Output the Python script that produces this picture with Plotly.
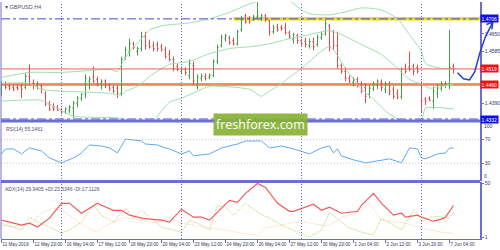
import plotly.graph_objects as go

# ---------------- data ----------------
bars = list(range(114))
opens = [1.4428,1.4465,1.4454,1.4450,1.4450,1.4454,1.4450,1.4491,1.4465,1.4454,
         1.4454,1.4428,1.4388,1.4376,1.4373,1.4365,1.4358,1.4365,1.4373,1.4391,
         1.4410,1.4425,1.4473,1.4488,1.4480,1.4462,1.4473,1.4458,1.4450,1.4447,
         1.4428,1.4562,1.4584,1.4613,1.4584,1.4595,1.4639,1.4613,1.4606,1.4610,
         1.4602,1.4591,1.4573,1.4554,1.4528,1.4510,1.4517,1.4495,1.4532,1.4458,
         1.4484,1.4491,1.4488,1.4495,1.4547,1.4606,1.4632,1.4636,1.4625,1.4613,
         1.4665,1.4717,1.4706,1.4702,1.4713,1.4710,1.4717,1.4699,1.4658,1.4676,
         1.4673,1.4673,1.4654,1.4628,1.4643,1.4625,1.4621,1.4606,1.4621,1.4610,
         1.4636,1.4650,1.4680,1.4658,1.4606,1.4532,1.4510,1.4484,1.4469,1.4480,
         1.4462,1.4450,1.4425,1.4447,1.4458,1.4469,1.4443,1.4462,1.4443,1.4428,
         1.4417,1.4517,1.4525,1.4528,1.4525,1.4465,1.4406,1.4410,1.4399,1.4428,
         1.4447,1.4458,1.4462,1.4528]
highs = [1.4473,1.4473,1.4465,1.4458,1.4462,1.4465,1.4502,1.4536,1.4480,1.4473,
         1.4462,1.4436,1.4399,1.4391,1.4384,1.4373,1.4376,1.4384,1.4399,1.4417,
         1.4428,1.4499,1.4491,1.4528,1.4491,1.4480,1.4480,1.4465,1.4458,1.4458,
         1.4565,1.4602,1.4632,1.4621,1.4602,1.4658,1.4658,1.4628,1.4621,1.4621,
         1.4613,1.4602,1.4591,1.4565,1.4539,1.4528,1.4525,1.4554,1.4547,1.4499,
         1.4502,1.4502,1.4502,1.4554,1.4610,1.4647,1.4650,1.4643,1.4636,1.4665,
         1.4717,1.4725,1.4717,1.4721,1.4769,1.4725,1.4725,1.4702,1.4684,1.4688,
         1.4684,1.4691,1.4662,1.4654,1.4650,1.4632,1.4636,1.4632,1.4636,1.4647,
         1.4658,1.4702,1.4688,1.4665,1.4658,1.4539,1.4525,1.4495,1.4488,1.4488,
         1.4473,1.4465,1.4458,1.4473,1.4480,1.4480,1.4473,1.4473,1.4454,1.4443,
         1.4525,1.4539,1.4584,1.4539,1.4536,1.4473,1.4413,1.4417,1.4454,1.4462,
         1.4473,1.4473,1.4665,1.4539]
lows = [1.4417,1.4443,1.4439,1.4436,1.4439,1.4410,1.4443,1.4458,1.4443,1.4443,
        1.4428,1.4380,1.4362,1.4362,1.4362,1.4351,1.4351,1.4354,1.4336,1.4376,
        1.4399,1.4410,1.4443,1.4465,1.4454,1.4443,1.4447,1.4436,1.4428,1.4410,
        1.4417,1.4554,1.4565,1.4591,1.4569,1.4584,1.4591,1.4595,1.4584,1.4584,
        1.4584,1.4558,1.4547,1.4510,1.4510,1.4499,1.4495,1.4480,1.4458,1.4443,
        1.4473,1.4476,1.4480,1.4488,1.4536,1.4599,1.4621,1.4610,1.4606,1.4606,
        1.4658,1.4688,1.4688,1.4699,1.4706,1.4699,1.4695,1.4643,1.4650,1.4658,
        1.4662,1.4647,1.4632,1.4613,1.4613,1.4606,1.4599,1.4595,1.4588,1.4602,
        1.4628,1.4643,1.4584,1.4591,1.4521,1.4502,1.4473,1.4465,1.4454,1.4450,
        1.4428,1.4391,1.4410,1.4436,1.4443,1.4436,1.4428,1.4421,1.4406,1.4406,
        1.4406,1.4502,1.4510,1.4495,1.4502,1.4354,1.4384,1.4399,1.4369,1.4410,
        1.4436,1.4447,1.4443,1.4502]
closes = [1.4462,1.4450,1.4447,1.4443,1.4447,1.4443,1.4491,1.4465,1.4458,1.4465,
          1.4443,1.4388,1.4369,1.4369,1.4365,1.4358,1.4369,1.4376,1.4391,1.4410,
          1.4425,1.4484,1.4480,1.4473,1.4465,1.4473,1.4458,1.4447,1.4436,1.4428,
          1.4554,1.4591,1.4613,1.4599,1.4595,1.4639,1.4606,1.4602,1.4595,1.4595,
          1.4591,1.4565,1.4554,1.4521,1.4517,1.4517,1.4506,1.4539,1.4473,1.4488,
          1.4491,1.4484,1.4495,1.4547,1.4599,1.4636,1.4643,1.4617,1.4613,1.4658,
          1.4706,1.4695,1.4695,1.4713,1.4717,1.4717,1.4702,1.4658,1.4673,1.4665,
          1.4669,1.4654,1.4639,1.4647,1.4625,1.4613,1.4610,1.4621,1.4602,1.4636,
          1.4647,1.4688,1.4602,1.4606,1.4532,1.4510,1.4484,1.4473,1.4480,1.4462,
          1.4443,1.4417,1.4447,1.4462,1.4473,1.4450,1.4462,1.4436,1.4417,1.4413,
          1.4517,1.4510,1.4517,1.4510,1.4510,1.4399,1.4399,1.4402,1.4436,1.4447,
          1.4462,1.4465,1.4525,1.4519]

# Bollinger bands (bar, price)
bb_up_bars = [0,7,15,22,27,29,30,32,35,37,40,42,47,52,56,59,62,65,68,72,75,77,82,86,90,95,99,102,105,106,110,113]
bb_up = [1.4488,1.4506,1.4506,1.4513,1.4517,1.4510,1.4536,1.4584,1.4632,1.4665,1.4680,1.4684,1.4691,1.4706,1.4725,1.4743,1.4762,1.4776,1.4784,1.4773,1.4739,1.4725,1.4721,1.4732,1.4747,1.4739,1.4706,1.4647,1.4584,1.4539,1.4521,1.4521]
bb_mid_bars = [0,7,10,15,22,27,30,31,34,37,42,47,52,57,62,67,72,77,82,85,90,95,99,102,105,107,110,113]
bb_mid = [1.4465,1.4465,1.4443,1.4436,1.4432,1.4428,1.4421,1.4436,1.4454,1.4491,1.4536,1.4547,1.4576,1.4595,1.4602,1.4613,1.4632,1.4647,1.4662,1.4647,1.4610,1.4573,1.4521,1.4480,1.4462,1.4447,1.4454,1.4462]
bb_low_bars = [0,10,12,18,29,31,38,40,42,45,49,52,62,65,67,69,75,82,86,90,93,96,99,103,105,106,113]
bb_low = [1.4399,1.4402,1.4388,1.4343,1.4336,1.4328,1.4328,1.4362,1.4395,1.4410,1.4436,1.4454,1.4443,1.4417,1.4436,1.4454,1.4521,1.4602,1.4521,1.4443,1.4406,1.4362,1.4332,1.4317,1.4328,1.4373,1.4369]

# RSI(14)
rsi_bars = [0,1,3,5,7,10,12,15,18,20,22,25,27,29,31,34,35,36,39,41,42,45,47,48,52,55,59,61,65,67,70,73,77,80,82,83,84,85,87,88,91,94,97,100,102,104,105,106,109,111,112,113]
rsi = [45.5,53.8,53.8,45.5,55.5,50.5,38.8,30.5,38.8,47.2,60.5,58.8,55.5,47.2,70.5,67.2,67.2,62.2,60.5,55.5,53.8,45.5,50.5,42.2,45.5,55.5,62.2,67.2,67.2,55.5,58.8,53.8,45.5,55.5,58.8,47.2,53.8,42.2,37.2,35.5,30.5,33.8,37.2,30.5,55.5,53.8,38.8,37.2,45.5,47.2,55.5,55.1]

# ADX(14), +DI, -DI
adx_bars = [0,2,5,7,9,12,15,17,20,24,25,28,30,32,35,37,40,42,45,48,50,52,57,59,61,64,66,69,72,73,75,78,80,82,85,87,89,90,93,95,98,100,101,104,105,108,110,111,113]
adx = [16.5,14.6,11.9,13.7,10.1,18.3,31.9,31.9,22.8,31.9,30.1,25.5,25.5,21.0,18.3,17.4,16.5,14.6,26.5,19.2,19.2,16.5,34.6,32.8,41.0,50.1,46.5,31.9,24.6,24.6,27.4,31.0,25.5,28.3,22.8,23.7,24.6,30.1,41.0,31.9,21.0,22.8,19.2,21.0,19.2,15.5,17.4,19.2,29.9]
pdi_bars = [0,3,5,7,9,12,15,17,20,23,25,28,31,33,35,38,40,45,47,50,52,54,56,58,61,64,67,70,75,77,80,82,85,87,90,93,95,97,100,103,104,105,107,110,111,113]
pdi = [11.9,10.1,7.4,19.2,14.6,10.1,4.6,7.4,14.6,30.1,21.0,14.6,27.4,19.2,25.5,16.5,10.1,5.5,16.5,11.9,7.4,30.1,28.3,21.0,31.9,23.7,18.3,11.9,4.6,1.0,7.4,23.7,14.6,9.2,5.5,2.8,18.3,13.7,7.4,25.5,22.8,14.6,19.2,20.1,14.6,23.5]
mdi_bars = [0,3,5,8,10,13,15,18,21,24,25,28,31,35,38,40,42,45,48,52,56,60,64,66,70,73,76,80,82,85,87,90,92,95,98,101,105,107,110,113]
mdi = [13.7,10.1,11.9,14.6,22.8,27.4,25.5,18.3,10.1,5.5,9.2,14.6,19.2,16.5,13.7,16.5,18.3,13.7,11.9,9.2,7.4,4.6,2.8,9.2,11.9,14.6,14.6,11.9,11.9,19.2,21.0,25.5,31.9,16.5,14.6,13.7,9.2,7.4,5.5,4.6]

tick_bars = [0,8,16,24,32,40,48,56,64,72,80,88,96,104,112]
tick_labels = ["11 May 2016","12 May 20:00","16 May 04:00","17 May 12:00","18 May 20:00",
               "20 May 04:00","23 May 12:00","24 May 20:00","26 May 04:00","27 May 12:00",
               "30 May 20:00","1 Jun 04:00","2 Jun 12:00","3 Jun 20:00","7 Jun 04:00"]
week_separators = [15,45,75,105]

price_ticks = [1.4650, 1.4585, 1.4390]
level_blue = [1.4706, 1.4332]
level_red = [1.4519, 1.4460]
yellow_level = 1.4706
yellow_start = 58
rsi_levels = [70, 30]
adx_ticks = [50, 1]

# arrow drawn by hand (bar, price)
arrow_path = [(114.0, 1.4505), (115.5, 1.4482), (117.0, 1.4478), (118.3, 1.4508),
              (119.6, 1.4580), (121.0, 1.4640), (122.8, 1.4693)]

# ---------------- layout constants ----------------
W, H = 500, 250
ML, MR, MT, MB = 1, 20, 0, 11
XR = [-0.125, 119.625]
PR = [1.43264, 1.4769]
FRAME = "#6e6ed2"
TXT = "#34346a"
FONT = "Liberation Sans"

main_dom = [0.5, 1.0]
rsi_dom = [0.2448, 0.4958]
adx_dom = [0.0, 0.2385]

fig = go.Figure()
fig.add_trace(go.Ohlc(x=bars, open=opens, high=highs, low=lows, close=closes,
                      increasing=dict(line=dict(color="#45a045", width=1)),
                      decreasing=dict(line=dict(color="#ea4a4a", width=1)),
                      tickwidth=0.3, xaxis="x", yaxis="y", showlegend=False, hoverinfo="skip"))
bbc = "#9edcb2"
for bx, by in [(bb_up_bars, bb_up), (bb_mid_bars, bb_mid), (bb_low_bars, bb_low)]:
    fig.add_trace(go.Scatter(x=bx, y=by, mode="lines", line=dict(color=bbc, width=1, shape="spline", smoothing=0.6),
                             xaxis="x", yaxis="y", showlegend=False, hoverinfo="skip"))

fig.add_trace(go.Scatter(x=rsi_bars, y=rsi, mode="lines", line=dict(color="#5eaaf2", width=1),
                         xaxis="x2", yaxis="y2", showlegend=False, hoverinfo="skip"))

fig.add_trace(go.Scatter(x=mdi_bars, y=mdi, mode="lines", line=dict(color="#f7d2b0", width=1, dash="1px,1px"),
                         xaxis="x3", yaxis="y3", showlegend=False, hoverinfo="skip"))
fig.add_trace(go.Scatter(x=pdi_bars, y=pdi, mode="lines", line=dict(color="#b5d46a", width=1, dash="1px,1px"),
                         xaxis="x3", yaxis="y3", showlegend=False, hoverinfo="skip"))
fig.add_trace(go.Scatter(x=adx_bars, y=adx, mode="lines", line=dict(color="#f55a5a", width=1.2),
                         xaxis="x3", yaxis="y3", showlegend=False, hoverinfo="skip"))

shapes = []
# horizontal levels
shapes.append(dict(type="line", xref="x", yref="y", x0=yellow_start, x1=XR[1], y0=yellow_level, y1=yellow_level,
                   line=dict(color="#e4e400", width=3.5), layer="below"))
for lv in level_blue:
    shapes.append(dict(type="line", xref="paper", yref="y", x0=0, x1=1, y0=lv, y1=lv,
                       line=dict(color="#4848d8", width=1, dash="dashdot")))
shapes.append(dict(type="line", xref="paper", yref="y", x0=0, x1=1, y0=level_red[0], y1=level_red[0],
                   line=dict(color="#ff5a5a", width=1)))
shapes.append(dict(type="line", xref="paper", yref="y", x0=0, x1=1, y0=level_red[1], y1=level_red[1],
                   line=dict(color="#f5a070", width=2.5), layer="below"))
shapes.append(dict(type="line", xref="paper", yref="y", x0=0, x1=1, y0=level_red[1] + 0.0003, y1=level_red[1] + 0.0003,
                   line=dict(color="#ff5a5a", width=1), layer="below"))
for lv in rsi_levels:
    shapes.append(dict(type="line", xref="paper", yref="y2", x0=0, x1=1, y0=lv, y1=lv,
                       line=dict(color="#c4c4c4", width=1, dash="1px,2px")))
for sb in week_separators:
    shapes.append(dict(type="line", xref="x", yref="paper", x0=sb, x1=sb, y0=0, y1=1,
                       line=dict(color="#6a6ad0", width=1, dash="1px,2px")))
# panel separators & frame
for py in [0.4979, 0.2427]:
    shapes.append(dict(type="line", xref="paper", yref="paper", x0=0, x1=1.0, y0=py, y1=py,
                       line=dict(color=FRAME, width=3)))
shapes.append(dict(type="line", xref="paper", yref="paper", x0=0, x1=0, y0=0, y1=1,
                   line=dict(color=FRAME, width=1)))

# hand-drawn arrow converted to paper coords
def to_paper(b, p):
    xp = (b - XR[0]) / (XR[1] - XR[0])
    yp = main_dom[0] + (p - PR[0]) / (PR[1] - PR[0]) * (main_dom[1] - main_dom[0])
    return xp, yp

pts = [to_paper(b, p) for b, p in arrow_path]
path = "M %f,%f" % pts[0] + "".join(" L %f,%f" % q for q in pts[1:])
shapes.append(dict(type="path", xref="paper", yref="paper", path=path,
                   line=dict(color="#2440c8", width=1.5)))
tip = pts[-1]
wing1 = to_paper(arrow_path[-1][0] - 1.6, arrow_path[-1][1] - 0.0008)
wing2 = to_paper(arrow_path[-1][0] - 0.2, arrow_path[-1][1] - 0.0026)
shapes.append(dict(type="path", xref="paper", yref="paper",
                   path="M %f,%f L %f,%f L %f,%f" % (wing1[0], wing1[1], tip[0], tip[1], wing2[0], wing2[1]),
                   line=dict(color="#2440c8", width=1.5)))

annotations = []
def box(val, color, yref="y"):
    annotations.append(dict(xref="paper", yref=yref, x=1.0, y=val, xanchor="left", yanchor="middle",
                            text="%.4f" % val, showarrow=False, bgcolor=color, borderpad=0.5,
                            font=dict(family=FONT, size=5, color="white")))
box(level_blue[0], "#1010e0")
box(level_blue[1], "#1010e0")
box(level_red[0], "#f01010")
box(level_red[1], "#f01010")

annotations.append(dict(xref="paper", yref="paper", x=0.004, y=1 - 5/239, xanchor="left", yanchor="middle",
                        text="\u25be GBPUSD,H4", showarrow=False, font=dict(family=FONT, size=5.5, color="#505070")))
annotations.append(dict(xref="paper", yref="paper", x=0.006, y=rsi_dom[1] - 0.012, xanchor="left", yanchor="top",
                        text="RSI(14) 55.1461", showarrow=False, font=dict(family=FONT, size=5, color="#505070")))
annotations.append(dict(xref="paper", yref="paper", x=0.004, y=adx_dom[1] - 0.006, xanchor="left", yanchor="top",
                        text="ADX(14) 29.9405 +DI:23.5346 -DI:17.1126", showarrow=False,
                        font=dict(family=FONT, size=5, color="#505070")))
annotations.append(dict(xref="paper", yref="y2", x=1.0, y=100, xanchor="left", yanchor="top", text="100",
                        showarrow=False, xshift=2, font=dict(family=FONT, size=5, color=TXT)))
annotations.append(dict(xref="paper", yref="y2", x=1.0, y=0, xanchor="left", yanchor="bottom", text="0",
                        showarrow=False, xshift=2, font=dict(family=FONT, size=5, color=TXT)))
# watermark
annotations.append(dict(xref="paper", yref="paper", x=(260 - ML) / 479, y=(239 - 124) / 239,
                        xanchor="center", yanchor="middle", text="freshforex.com", showarrow=False,
                        bgcolor="rgba(136,178,52,0.92)", borderpad=2,
                        font=dict(family="Open Sans", size=12.5, color="white")))

axcommon = dict(showgrid=False, zeroline=False)
fig.update_layout(
    width=W, height=H, margin=dict(l=ML, r=MR, t=MT, b=MB),
    paper_bgcolor="white", plot_bgcolor="white", showlegend=False,
    xaxis=dict(domain=[0, 1], range=XR, anchor="y", showticklabels=False, ticks="",
               rangeslider=dict(visible=False), **axcommon),
    xaxis2=dict(domain=[0, 1], range=XR, anchor="y2", matches="x", showticklabels=False, ticks="", **axcommon),
    xaxis3=dict(domain=[0, 1], range=XR, anchor="y3", matches="x", tickvals=tick_bars, ticktext=tick_labels,
                tickangle=0, ticks="outside", ticklen=3, tickcolor=FRAME, ticklabelposition="outside right",
                tickfont=dict(family=FONT, size=4.6, color=TXT), showline=True, linecolor=FRAME, linewidth=1,
                **axcommon),
    yaxis=dict(domain=main_dom, range=PR, side="right", anchor="x", tickvals=price_ticks,
               ticktext=["%.4f" % v for v in price_ticks], ticks="outside", ticklen=2, tickcolor=FRAME,
               tickfont=dict(family=FONT, size=5, color=TXT), showline=True, linecolor=FRAME, linewidth=1.5,
               **axcommon),
    yaxis2=dict(domain=rsi_dom, range=[0, 100], side="right", anchor="x2", tickvals=rsi_levels,
                ticks="outside", ticklen=2, tickcolor=FRAME,
                tickfont=dict(family=FONT, size=5, color=TXT), showline=True, linecolor=FRAME, linewidth=1.5,
                **axcommon),
    yaxis3=dict(domain=adx_dom, range=[-0.82, 51], side="right", anchor="x3", tickvals=adx_ticks,
                ticks="outside", ticklen=2, tickcolor=FRAME,
                tickfont=dict(family=FONT, size=5, color=TXT), showline=True, linecolor=FRAME, linewidth=1.5,
                **axcommon),
    shapes=shapes, annotations=annotations,
)

fig.write_html("out.html")
